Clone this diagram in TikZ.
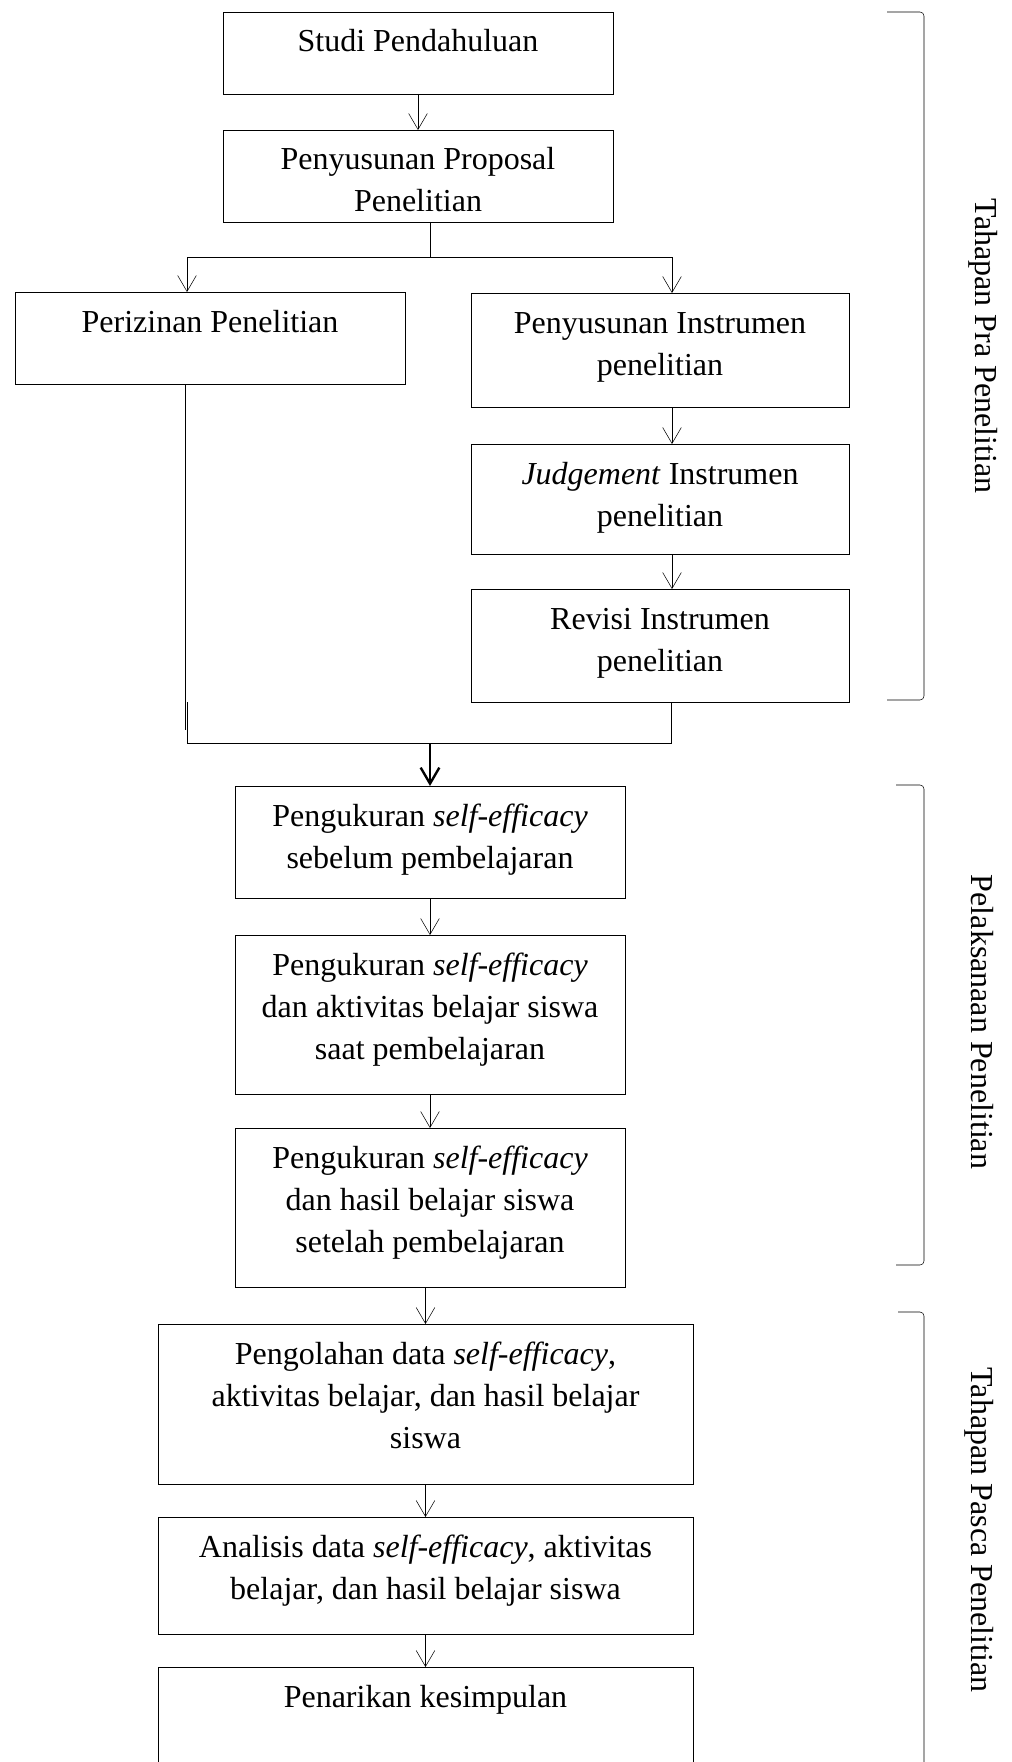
\documentclass[tikz,border=0pt]{standalone}
\usepackage{fontspec}
\setmainfont{Liberation Serif}
\usetikzlibrary{arrows.meta}
\usetikzlibrary{positioning}
\newdimen\px
\px=0.75pt
\tikzset{>={Straight Barb[length=12pt,width=14pt]}, line width=1.3pt, font=\fontsize{24}{31.5}\selectfont}
\tikzstyle{block} = [draw, rectangle, inner sep=0pt, outer sep=0pt]
\tikzstyle{stage} = [rotate=-90, anchor=base, inner sep=0pt]
\tikzstyle{bracket} = [rounded corners=3pt]
% box text: width, height (px), lines
\newcommand{\boxtext}[3]{\parbox[c][#2\px][t]{#1\px}{\centering\rule{0pt}{30pt}#3}}
\newcommand{\se}{\textit{self-efficacy}}

\begin{document}
\begin{tikzpicture}[x=0.75pt, y=-0.75pt]
		\useasboundingbox (0,0) rectangle (1011,1762);

		% pra penelitian
		\node [block] (studi) at (418,53) {\boxtext{390}{82}{Studi Pendahuluan}};
		\node [block, below=27pt of studi] (proposal) {\boxtext{390}{92}{Penyusunan Proposal\\Penelitian}};
		\node [block] (izin) at (210,338) {\boxtext{390}{92}{Perizinan Penelitian}};
		\node [block] (instr) at (660,350) {\boxtext{378}{114}{Penyusunan Instrumen\\penelitian}};
		\node [block, below=27.75pt of instr] (judge) {\boxtext{378}{110}{\textit{Judgement} Instrumen\\penelitian}};
		\node [block, below=26.25pt of judge] (revisi) {\boxtext{378}{113}{Revisi Instrumen\\penelitian}};

		% pelaksanaan
		\node [block] (ukur1) at (430,842) {\boxtext{390}{112}{Pengukuran \se\\sebelum pembelajaran}};
		\node [block, below=27.75pt of ukur1] (ukur2) {\boxtext{390}{159}{Pengukuran \se\\dan aktivitas belajar siswa\\saat pembelajaran}};
		\node [block, below=25.5pt of ukur2] (ukur3) {\boxtext{390}{159}{Pengukuran \se\\dan hasil belajar siswa\\setelah pembelajaran}};

		% pasca penelitian
		\node [block] (olah) at (425.5,1404) {\boxtext{535}{160}{Pengolahan data \se,\\aktivitas belajar, dan hasil belajar\\siswa}};
		\node [block, below=24.75pt of olah] (analisis) {\boxtext{535}{117}{Analisis data \se, aktivitas\\belajar, dan hasil belajar siswa}};
		\node [block, below=24.75pt of analisis] (simpul) {\boxtext{535}{140}{Penarikan kesimpulan}};

		\coordinate (split) at (430,257);
		\coordinate (join) at (430,743);

		\draw [->] (studi) -- (proposal);
		\draw (split |- proposal.south) -- (split);
		\draw [->] (split) -| ([xshift=-23\px]izin.north);
		\draw [->] (split) -| ([xshift=12\px]instr.north);
		\draw [->] ([xshift=12\px]instr.south) -- ([xshift=12\px]judge.north);
		\draw [->] ([xshift=12\px]judge.south) -- ([xshift=12\px]revisi.north);

		\draw ([xshift=-25\px]izin.south) -- ++(0,346);
		\draw ([xshift=11\px]revisi.south) |- ([xshift=-23\px]izin.south |- join) -- ++(0,-41);
		\draw [->, line width=1.8pt] (join) -- (ukur1.north);

		\draw [->] (ukur1) -- (ukur2);
		\draw [->] (ukur2) -- (ukur3);
		\draw [->] (ukur3.south -| olah.north) -- (olah);
		\draw [->] (olah) -- (analisis);
		\draw [->] (analisis) -- (simpul);

		% tahapan
		\draw [bracket] (887,12) -- (924,12) -- (924,700) -- (887,700);
		\draw [bracket] (896,785) -- (924,785) -- (924,1265) -- (896,1265);
		\draw [bracket] (898,1312) -- (924,1312) -- (924,1800);
		\node [stage] (pra) at (975,346) {Tahapan Pra Penelitian};
		\node [stage] (laksana) at (971,1022) {Pelaksanaan Penelitian};
		\node [stage] (pasca) at (971,1530) {Tahapan Pasca Penelitian};
	\end{tikzpicture}
\end{document}
